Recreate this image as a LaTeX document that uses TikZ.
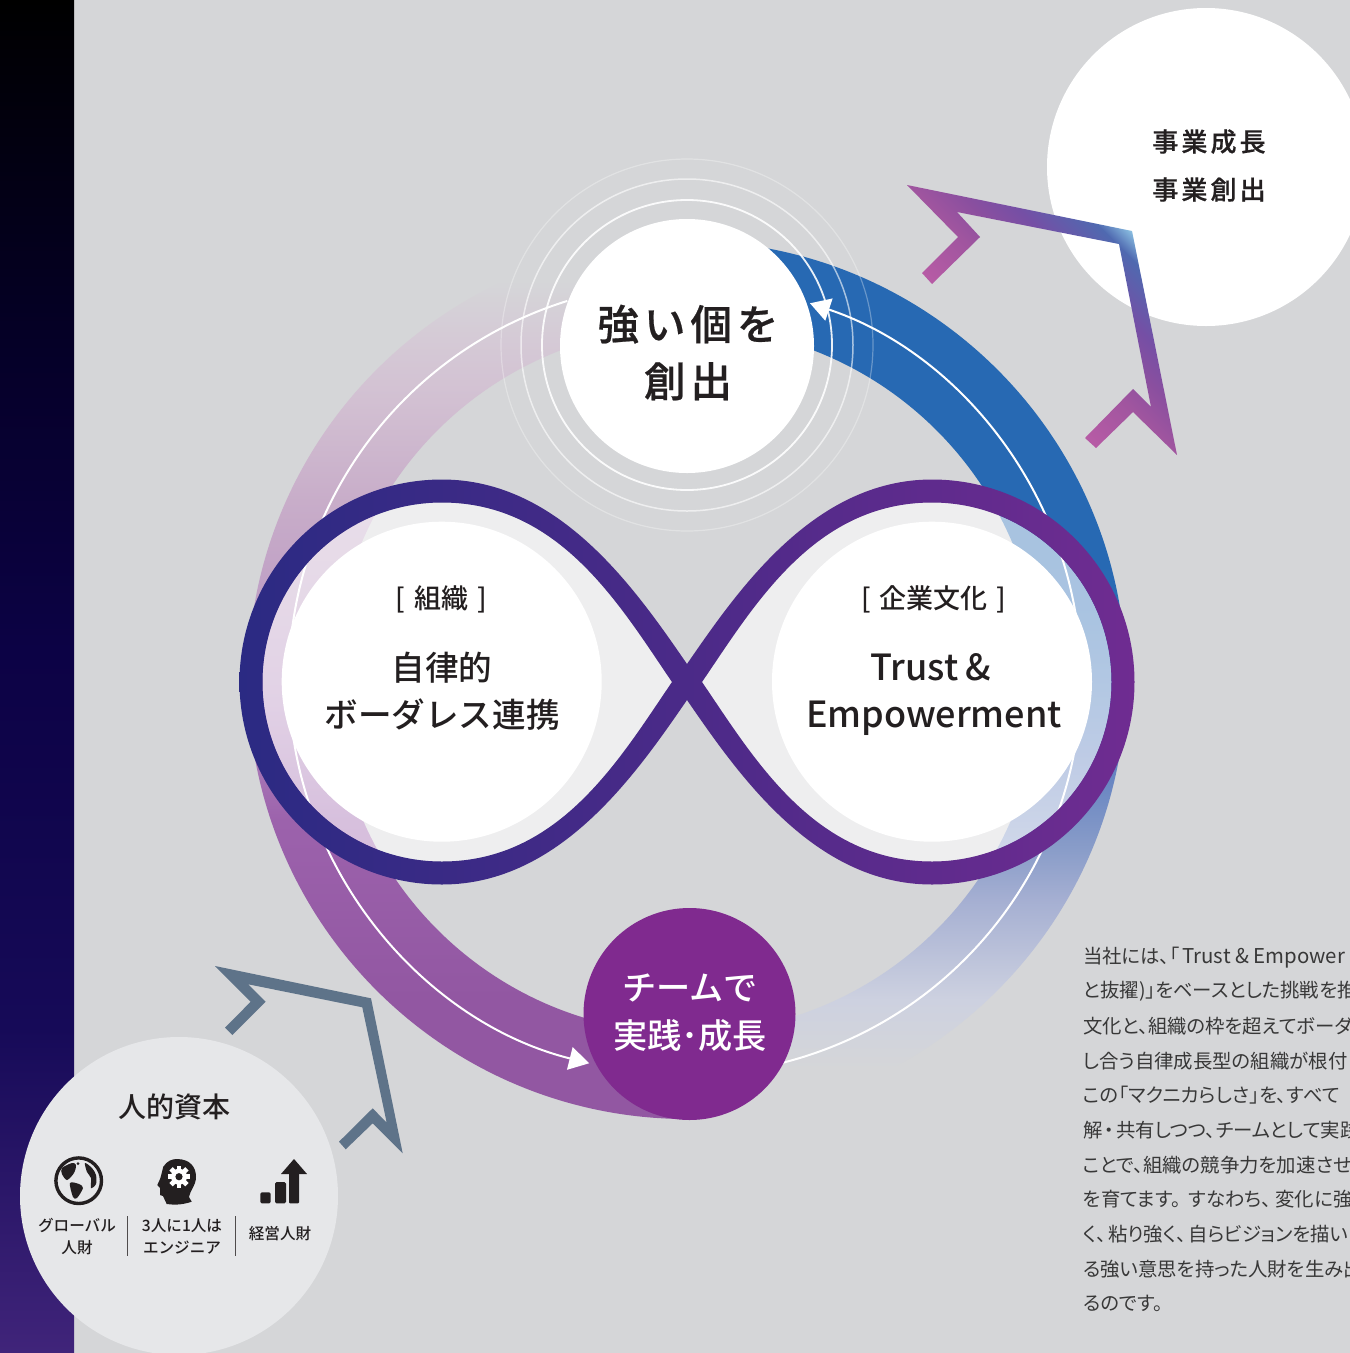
\documentclass[tikz,border=0pt]{standalone}
\usepackage{fontspec}
\usetikzlibrary{arrows.meta}
\setmainfont{Noto Sans CJK JP}
\newfontfamily\cjkreg[RawFeature={+palt}]{Noto Sans CJK JP}
\newfontfamily\cjkmed{Noto Sans CJK JP Medium}
\newfontfamily\cjkbold[LetterSpace=12,FakeBold=0.5]{Noto Sans CJK JP Medium}
\newcommand{\bfont}{\cjkbold}
\definecolor{bggray}{HTML}{D5D6D8}
\definecolor{inktext}{HTML}{231F20}
\definecolor{brand}{HTML}{802A8F}
\definecolor{arrowgray}{HTML}{5E7389}
\definecolor{paletext}{HTML}{E6E7E9}
\definecolor{loopleft}{HTML}{2B2A83}
\definecolor{loopmid}{HTML}{4B2A88}
\definecolor{loopright}{HTML}{6F2C91}
\definecolor{ra}{HTML}{2769B3}
\definecolor{rb}{HTML}{2B6CB5}
\definecolor{rc}{HTML}{4678BB}
\definecolor{rd}{HTML}{6080C0}
\definecolor{re}{HTML}{8A9DC9}
\definecolor{rf}{HTML}{A5AFD2}
\definecolor{rg}{HTML}{CDD1E0}
\definecolor{la}{HTML}{9257A2}
\definecolor{lb}{HTML}{9C62AC}
\definecolor{lc}{HTML}{B68EC0}
\definecolor{ld}{HTML}{BF9FC5}
\definecolor{le}{HTML}{C8ADC9}
\definecolor{lf}{HTML}{D2C0D2}
\definecolor{lg}{HTML}{D5CAD6}
\definecolor{sa}{HTML}{000000}
\definecolor{sb}{HTML}{050028}
\definecolor{sc}{HTML}{0C0245}
\definecolor{sd}{HTML}{160A58}
\definecolor{se}{HTML}{40247A}
\definecolor{ca}{HTML}{8BC0E2}
\definecolor{cb}{HTML}{4F69B0}
\definecolor{cc}{HTML}{754FA5}
\definecolor{cd}{HTML}{8A4F9F}
\definecolor{ce}{HTML}{A0559F}
\definecolor{cf}{HTML}{B65BA5}
\pgfdeclareverticalshading{rightband}{100bp}{color(0bp)=(bggray); color(27.8bp)=(bggray); color(31.8bp)=(rg); color(37.5bp)=(rf); color(40.3bp)=(re); color(45.4bp)=(rd); color(48.9bp)=(rc); color(53.4bp)=(rb); color(56.8bp)=(ra); color(100bp)=(ra)}
\pgfdeclareverticalshading{leftband}{100bp}{color(0bp)=(la); color(31.8bp)=(la); color(42bp)=(lb); color(48.9bp)=(lc); color(54.6bp)=(ld); color(60.2bp)=(le); color(65.9bp)=(lf); color(69.4bp)=(lg); color(72.8bp)=(bggray); color(100bp)=(bggray)}
\pgfdeclareverticalshading{sidebar}{100bp}{color(0bp)=(se); color(25bp)=(se); color(37bp)=(sd); color(51bp)=(sc); color(62bp)=(sb); color(75bp)=(sa); color(100bp)=(sa)}
\pgfdeclareverticalshading{chevron}{100bp}{color(0bp)=(ca); color(50bp)=(ca); color(51bp)=(cb); color(53.25bp)=(cc); color(54.75bp)=(cd); color(56.3bp)=(ce); color(58.9bp)=(cf); color(100bp)=(cf)}
\tikzset{
  disc/.style={circle,inner sep=0pt,outer sep=0pt,minimum size=#1},
  headtext/.style={font=\bfont\fontsize{41.5}{57}\selectfont,text=inktext,align=center},
  loophead/.style={font=\cjkmed\fontsize{33.6}{47}\selectfont,text=inktext,align=center},
  looptag/.style={font=\cjkmed\fontsize{27}{32}\selectfont,text=inktext},
  smalltext/.style={font=\cjkmed\fontsize{15.6}{22}\selectfont,text=inktext,align=center},
  bodyline/.style={font=\cjkreg\fontsize{19.4}{24}\selectfont,text=black!78,anchor=west,inner sep=0pt},
  ringline/.style={draw=white,line width=#1},
  whitearc/.style={draw=white,line width=2pt,-{Triangle[length=20pt,width=23pt]}}
}
\def\leftdrop{(442,502.5) arc[start angle=-90,end angle=-270,radius=179.5] .. controls (560,861.5) and (620.3,757.8) .. (672,682) .. controls (620.3,606.2) and (560,502.5) .. (442,502.5) -- cycle}
\def\rightdrop{(932,861.5) arc[start angle=90,end angle=-90,radius=179.5] .. controls (814,502.5) and (753.7,606.2) .. (702,682) .. controls (753.7,757.8) and (814,861.5) .. (932,861.5) -- cycle}
\begin{document}
\begin{tikzpicture}[x=1pt,y=-1pt]
        \useasboundingbox (0,0) rectangle (1350,1353);
        \fill[bggray] (0,0) rectangle (1350,1353);
        \path[shading=sidebar] (0,0) rectangle (74,1353);

        % ring
        \path[shading=rightband] (687,241) arc[start angle=-90,end angle=90,radius=439] -- (687,1033) arc[start angle=90,end angle=-90,radius=353] -- cycle;
        \path[shading=leftband] (687,241) arc[start angle=-90,end angle=-270,radius=439] -- (687,1033) arc[start angle=-270,end angle=-90,radius=353] -- cycle;
        \fill[white,opacity=0.6] \leftdrop;
        \fill[white,opacity=0.6] \rightdrop;

        \draw[whitearc] (685,679) ++(75.8:396) arc[start angle=75.8,end angle=-71.6,radius=396];
        \draw[whitearc] (685,679) ++(252.7:396) arc[start angle=252.7,end angle=104,radius=396];

        \draw[ringline=1.8pt,opacity=0.9] (687,345) circle (145);
        \draw[ringline=1.5pt,opacity=0.6] (687,345) circle (166);
        \draw[ringline=1.2pt,opacity=0.3] (687,345) circle (186);

        % discs
        \node[disc=254pt,fill=white] (kojin) at (687,346) {};
        \node[disc=320pt,fill=white] (soshiki) at (441.7,681.7) {};
        \node[disc=320pt,fill=white] (bunka) at (932,681.7) {};
        \node[disc=212pt,fill=brand] (team) at (689.5,1014) {};
        \node[disc=318pt,fill=white] (seicho) at (1206,167) {};
        \node[disc=318pt,fill=paletext] (shihon) at (179,1196) {};

        % infinity
        \shade[even odd rule,left color=loopleft,right color=loopright,middle color=loopmid]
              (687,664) .. controls (636,590) and (560,479.5) .. (442,479.5) arc[start angle=-90,end angle=-270,radius=202.5]
              .. controls (560,884.5) and (636,774) .. (687,700) .. controls (738,774) and (814,884.5) .. (932,884.5)
              arc[start angle=90,end angle=-90,radius=202.5] .. controls (814,479.5) and (738,590) .. (687,664) -- cycle
              \leftdrop \rightdrop;

        % chevrons
        \begin{scope}
          \clip (907,185) -- (1132,231) -- (1177,455) -- (1133,412) -- (1096,448) -- (1085,438) -- (1133,389) -- (1151,407) -- (1119,244) -- (957,212) -- (980,237) -- (932,284) -- (922,273) -- (958,237) -- cycle;
          \path[shading=chevron,shading angle=135] (632,-269) rectangle (1632,731);
        \end{scope}
        \fill[arrowgray] (215,966) -- (371,998.3) -- (402.7,1153.3) -- (372.7,1123.3) -- (345.7,1149.3) -- (339,1141.7) -- (372.7,1108.3) -- (386.7,1122.7) -- (362.3,1007.3) -- (248.3,984.3) -- (265.7,1001.7) -- (232.3,1035) -- (225,1027.7) -- (250.7,1001.7) -- cycle;

        % texts
        \node[headtext] (kojintext) at (688,352.5) {強い個を\\創出};
        \node[looptag] (soshikitag) at (441.5,599) {[\,\,組織\,\,]};
        \node[loophead] (soshikitext) at (442,691.5) {自律的\\ボーダレス連携};
        \node[looptag] (bunkatag) at (934,599) {[\,\,企業文化\,\,]};
        \node[loophead,font=\cjkmed\fontsize{36}{47}\selectfont] (bunkatext) at (934,694.5) {Trust\kern-1pt~\&\kern7pt\\Empowerment};
        \node[loophead,text=white,font=\cjkmed\fontsize{34.2}{48}\selectfont] (teamtext) at (690,1012.5) {チームで\\実践･成長};
        \node[font=\bfont\fontsize{26}{48}\selectfont,text=inktext,align=center] (seichotext) at (1209,165.5) {事業成長\\事業創出};
        \node[font=\cjkmed\fontsize{28}{32}\selectfont,text=inktext] (shihontext) at (174,1107) {人的資本};

        % icons
        \draw[inktext,line width=3.4pt] (78.7,1180.7) circle (22.8);
        \fill[inktext] plot[smooth cycle] coordinates {(62,1168) (72,1163) (76,1165) (74,1173) (67,1180) (62,1174)};
        \fill[inktext] plot[smooth cycle] coordinates {(70,1183) (79,1184) (83,1188) (77,1198) (73,1197)};
        \fill[inktext] plot[smooth cycle] coordinates {(85,1163) (92,1168) (96,1175) (96,1184) (91,1188) (91,1178) (87,1172)};
        \fill[inktext] (78,1163.5) circle (1.5);
        \fill[inktext] (157.3,1185) .. controls (160,1180) .. (163.3,1166.7) .. controls (167,1161) and (172,1159) .. (176.7,1159) .. controls (190,1159) and (196,1167) .. (196,1176.7) .. controls (196,1186) and (190,1190) .. (189,1197) -- (191.7,1201.7) .. controls (182,1205) and (174,1205) .. (166.7,1204) -- (163,1196) -- (160,1195) -- (160,1188) -- cycle;
        \fill[white] (179,1176.7) circle (8);
        \foreach \a in {0,45,...,315}
          \fill[white,rotate around={\a:(179,1176.7)}] (176.6,1165.5) rectangle (181.4,1170);
        \fill[inktext] (179,1176.7) circle (3.6);
        \fill[inktext,rounded corners=1.5pt] (260.3,1192.3) rectangle (270.7,1203.3);
        \fill[inktext,rounded corners=1.5pt] (275,1182) rectangle (286,1203.3);
        \fill[inktext,rounded corners=1pt] (289,1172) rectangle (299,1203.3);
        \fill[inktext] (281,1174) -- (307,1174) -- (294,1159) -- cycle;

        \node[smalltext] (globaltext) at (77,1236.5) {グローバル\\人財};
        \node[smalltext] (engtext) at (182,1236.5) {3人に1人は\\エンジニア};
        \node[smalltext] (keieitext) at (280,1234) {経営人財};
        \coordinate (dividera) at (127.5,1216);
        \coordinate (dividerb) at (235,1216);
        \draw[inktext!80,line width=1pt] (dividera) -- ++(0,40);
        \draw[inktext!80,line width=1pt] (dividerb) -- ++(0,40);

        % body
        \node[bodyline] (linea) at (1083,958) {当社には、「\kern3pt{\fontsize{20.4}{24}\selectfont Trust \& Empower}};
        \node[bodyline] (lineb) at (1083,991) {と抜擢)」をベースとした挑戦を推};
        \node[bodyline] (linec) at (1083,1026) {文化と、組織の枠を超えてボーダ};
        \node[bodyline] (lined) at (1083,1061) {し合う自律成長型の組織が根付};
        \node[bodyline] (linee) at (1083,1095) {この「マクニカらしさ」を、すべて};
        \node[bodyline] (linef) at (1083,1130) {解\kern2pt・\kern2pt共有しつつ、チームとして実践};
        \node[bodyline] (lineg) at (1083,1165) {ことで、組織の競争力を加速させ};
        \node[bodyline] (lineh) at (1083,1199) {を育てます。\kern8ptすなわち、\kern4pt変化に強く};
        \node[bodyline] (linei) at (1083,1234) {く、\kern2pt粘り強く、\kern2pt自らビジョンを描い};
        \node[bodyline] (linej) at (1083,1269) {る強い意思を持った人財を生み出};
        \node[bodyline] (linek) at (1083,1303) {るのです。};
\end{tikzpicture}
\end{document}
